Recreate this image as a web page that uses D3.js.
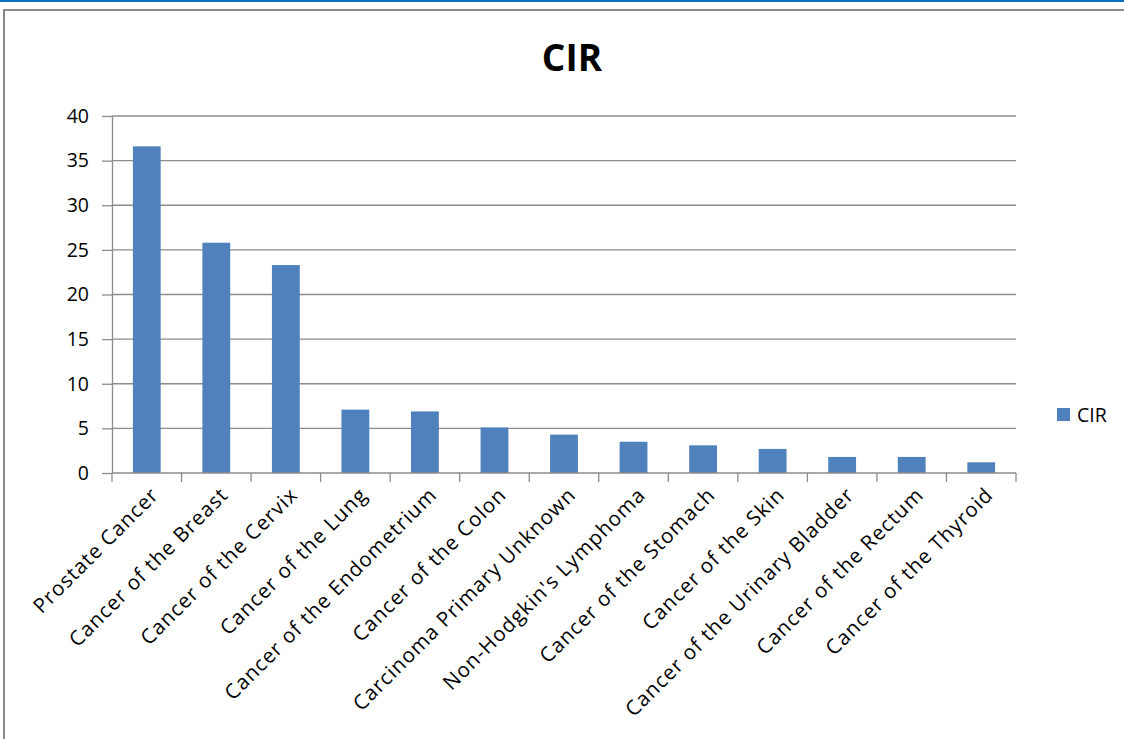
<!DOCTYPE html>
<html>
<head>
<meta charset="utf-8">
<script src="https://cdn.jsdelivr.net/npm/d3@7"></script>
<style>
  html, body { margin: 0; padding: 0; background: #fff; }
  svg { display: block; }
  text { font-family: "Open Sans", "Noto Sans", sans-serif; fill: #000; }
</style>
</head>
<body>
<svg id="chart" width="1124" height="739"></svg>
<script>
// Crude incidence rate by cancer site
const categories = [
  "Prostate Cancer",
  "Cancer of the Breast",
  "Cancer of the Cervix",
  "Cancer of the Lung",
  "Cancer of the Endometrium",
  "Cancer of the Colon",
  "Carcinoma Primary Unknown",
  "Non-Hodgkin's Lymphoma",
  "Cancer of the Stomach",
  "Cancer of the Skin",
  "Cancer of the Urinary Bladder",
  "Cancer of the Rectum",
  "Cancer of the Thyroid"
];
const cirValues = [36.6, 25.8, 23.3, 7.1, 6.9, 5.1, 4.3, 3.5, 3.1, 2.7, 1.8, 1.8, 1.2];
const yTicks = [0, 5, 10, 15, 20, 25, 30, 35, 40];
const seriesName = "CIR";
const chartTitle = "CIR";

const svg = d3.select("#chart");
const barColor = "#4F81BD";
const gridColor = "#8c8c8c";

// window accent line and chart frame
svg.append("rect").attr("x", 0).attr("y", 0).attr("width", 1124).attr("height", 2).attr("fill", "#0a6ebd");
svg.append("rect").attr("x", 4).attr("y", 10).attr("width", 1140).attr("height", 760)
  .attr("fill", "#fff").attr("stroke", "#8a8a8a").attr("stroke-width", 2);

const plot = { left: 112, right: 1016, top: 116, bottom: 473 };

const x = d3.scaleBand().domain(categories).range([plot.left, plot.right]).padding(0);
const y = d3.scaleLinear().domain([0, 40]).range([plot.bottom, plot.top]);

// horizontal gridlines
svg.append("g").selectAll("line").data(yTicks.filter(d => d > 0)).join("line")
  .attr("x1", plot.left).attr("x2", plot.right)
  .attr("y1", d => y(d)).attr("y2", d => y(d))
  .attr("stroke", gridColor).attr("stroke-width", 1.3);

// bars (gap width 150%)
const barW = x.bandwidth() / 2.5;
svg.append("g").selectAll("rect").data(cirValues).join("rect")
  .attr("x", (d, i) => x(categories[i]) + (x.bandwidth() - barW) / 2)
  .attr("y", d => y(d))
  .attr("width", barW)
  .attr("height", d => y(0) - y(d))
  .attr("fill", barColor);

// y axis
const yAxis = d3.axisLeft(y).tickValues(yTicks).tickSize(10).tickPadding(13).tickSizeOuter(0);
const gy = svg.append("g").attr("transform", `translate(${plot.left},0)`).call(yAxis);
gy.select(".domain").attr("stroke", gridColor).attr("stroke-width", 1.3);
gy.selectAll(".tick line").attr("stroke", gridColor).attr("stroke-width", 1.3);
gy.selectAll(".tick text").style("font-size", "19.5px").attr("fill", "#000");

// x axis: ticks at category boundaries
const gx = svg.append("g");
gx.append("line").attr("x1", plot.left).attr("x2", plot.right)
  .attr("y1", plot.bottom).attr("y2", plot.bottom)
  .attr("stroke", gridColor).attr("stroke-width", 1.3);
const bounds = categories.map(c => x(c)).concat([x(categories[categories.length - 1]) + x.bandwidth()]);
gx.selectAll("line.tk").data(bounds).join("line").attr("class", "tk")
  .attr("x1", d => d).attr("x2", d => d)
  .attr("y1", plot.bottom).attr("y2", plot.bottom + 9)
  .attr("stroke", gridColor).attr("stroke-width", 1.3);

// rotated category labels
gx.selectAll("text").data(categories).join("text")
  .attr("transform", d => `translate(${x(d) + x.bandwidth() / 2 + 3},${plot.bottom + 13}) rotate(-45)`)
  .attr("text-anchor", "end")
  .attr("dy", "0.7em")
  .style("font-size", "20.5px")
  .style("letter-spacing", "1px")
  .text(d => d);

// title
svg.append("text").attr("x", 572).attr("y", 71).attr("text-anchor", "middle")
  .style("font-size", "37px").style("font-weight", "bold").text(chartTitle);

// legend
const lg = svg.append("g").attr("transform", "translate(1057,408)");
lg.append("rect").attr("width", 13).attr("height", 13).attr("fill", barColor);
lg.append("text").attr("x", 20).attr("y", 14).style("font-size", "19.5px").text(seriesName);
</script>
</body>
</html>
